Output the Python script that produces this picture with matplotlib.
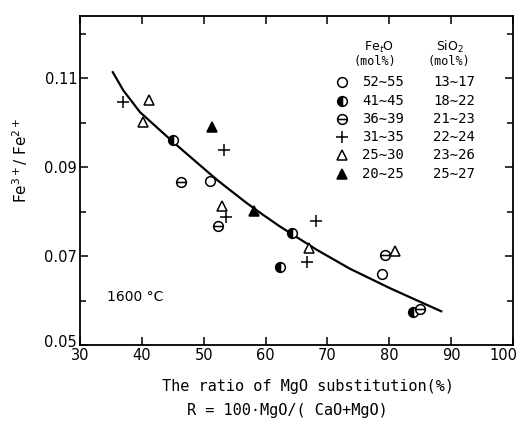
import numpy as np
import matplotlib
matplotlib.use("Agg")
import matplotlib.pyplot as plt
from matplotlib.path import Path
from matplotlib.ticker import MultipleLocator
from matplotlib.transforms import ScaledTranslation

# data (x = MgO substitution %, y = Fe3+/Fe2+)
open_x = [51.0, 78.9]
open_y = [0.0869, 0.0660]
half_x = [45.0, 64.2, 62.4, 83.8]
half_y = [0.0961, 0.0753, 0.0675, 0.0575]
theta_x = [46.4, 52.3, 79.3, 85.0]
theta_y = [0.0866, 0.0768, 0.0702, 0.0582]
plus_x = [37.0, 53.2, 53.6, 68.2, 66.7]
plus_y = [0.1047, 0.0940, 0.0788, 0.0779, 0.0686]
tri_x = [41.1, 40.2, 53.0, 67.0, 81.0]
tri_y = [0.1052, 0.1003, 0.0813, 0.0719, 0.0712]
ftri_x = [51.3, 58.2]
ftri_y = [0.0991, 0.0802]

curve_x = [35.3, 37.0, 39.7, 44.0, 46.2, 50.7, 52.3, 56.9, 59.6, 62.3, 68.2, 73.6, 80.1, 84.4, 88.4]
curve_y = [0.1114, 0.1073, 0.1024, 0.0970, 0.0943, 0.0889, 0.0870, 0.0820, 0.0793, 0.0767,
           0.0715, 0.0672, 0.0628, 0.0601, 0.0576]

x_ticks = [30, 40, 50, 60, 70, 80, 90, 100]
y_ticks = [0.05, 0.07, 0.09, 0.11]

legend_fe = ["52\u223c55", "41\u223c45", "36\u223c39", "31\u223c35", "25\u223c30", "20\u223c25"]
legend_si = ["13\u223c17", "18\u223c22", "21\u223c23", "22\u223c24", "23\u223c26", "25\u223c27"]

W, H = 521, 426

def fpos(px, py):
    # pixel position from top-left -> figure fraction
    return px / W, 1 - py / H

# circle with a horizontal bar through it
circ = Path.unit_circle()
bar = Path([[-1.0, 0.0], [1.0, 0.0]], [Path.MOVETO, Path.LINETO])
theta_marker = Path.make_compound_path(circ, bar)

fig = plt.figure(figsize=(5.21, 4.26), dpi=100)
ax = fig.add_axes([0.1536, 0.190, 0.831, 0.772])

ax.plot(curve_x, curve_y, color="black", lw=1.6, zorder=1)

ms = 7
styles = [
    dict(marker="o", mfc="white", mec="black", ms=ms, mew=1.1),
    dict(marker="o", mfc="black", mec="black", ms=ms, mew=1.1, fillstyle="left",
         markerfacecoloralt="white"),
    dict(marker=theta_marker, mfc="white", mec="black", ms=ms, mew=1.1),
    dict(marker="+", mec="black", ms=9, mew=1.1),
    dict(marker="^", mfc="white", mec="black", ms=ms, mew=1.1),
    dict(marker="^", mfc="black", mec="black", ms=ms, mew=1.1),
]
groups = [(open_x, open_y), (half_x, half_y), (theta_x, theta_y),
          (plus_x, plus_y), (tri_x, tri_y), (ftri_x, ftri_y)]
for (gx, gy), st in zip(groups, styles):
    ax.plot(gx, gy, ls="none", zorder=3, **st)

ax.set_xlim(30, 100)
ax.set_ylim(0.05, 0.124)
ax.yaxis.set_minor_locator(MultipleLocator(0.01))
ax.tick_params(which="both", direction="in", top=True, right=True, width=1.1)
ax.tick_params(which="major", length=6, labelsize=10.5, pad=2)
ax.tick_params(which="minor", length=4)
# last x label is drawn by hand, shifted left so it stays inside the figure
ax.set_xticks(x_ticks)
ax.set_xticklabels([str(t) for t in x_ticks[:-1]] + [""])
ax.set_yticks(y_ticks)
ax.set_yticklabels(["%.2f" % t for t in y_ticks])
for sp in ax.spines.values():
    sp.set_linewidth(1.3)
fig.text(*fpos(503, 355), str(x_ticks[-1]), fontsize=10.5, ha="center", va="center")

yl = ax.get_yticklabels()
yl[0].set_transform(yl[0].get_transform() + ScaledTranslation(0, 3 / 72, fig.dpi_scale_trans))

# legend table drawn as text
mono = "DejaVu Sans Mono"
fig.text(*fpos(379, 47), "Fe$_t$O", fontsize=9, ha="center", va="center")
fig.text(*fpos(450, 47), "SiO$_2$", fontsize=9, ha="center", va="center")
fig.text(*fpos(375, 61), "(mol%)", fontsize=8.5, ha="center", va="center", family=mono)
fig.text(*fpos(449, 61), "(mol%)", fontsize=8.5, ha="center", va="center", family=mono)
row_y = [82, 101, 119, 137, 155, 174]
for i in range(len(legend_fe)):
    xp, yp = fpos(341.7, row_y[i])
    ax.plot([xp], [yp], transform=fig.transFigure, ls="none", clip_on=False, **styles[i])
    fig.text(*fpos(383, row_y[i]), legend_fe[i], fontsize=10, ha="center",
             va="center", family=mono)
    fig.text(*fpos(454, row_y[i]), legend_si[i], fontsize=10, ha="center",
             va="center", family=mono)

fig.text(*fpos(107, 297), "1600 \u00b0C", fontsize=10, ha="left", va="center")

fig.text(*fpos(308, 386), "The ratio of MgO substitution(%)", fontsize=11,
         ha="center", va="center", family=mono)
fig.text(*fpos(287, 411), "R = 100\u00b7MgO/( CaO+MgO)", fontsize=11,
         ha="center", va="center", family=mono)
fig.text(*fpos(20, 160), "Fe$^{3+}$/ Fe$^{2+}$", fontsize=11, rotation=90,
         ha="center", va="center")

fig.savefig("out.png", dpi=100)
